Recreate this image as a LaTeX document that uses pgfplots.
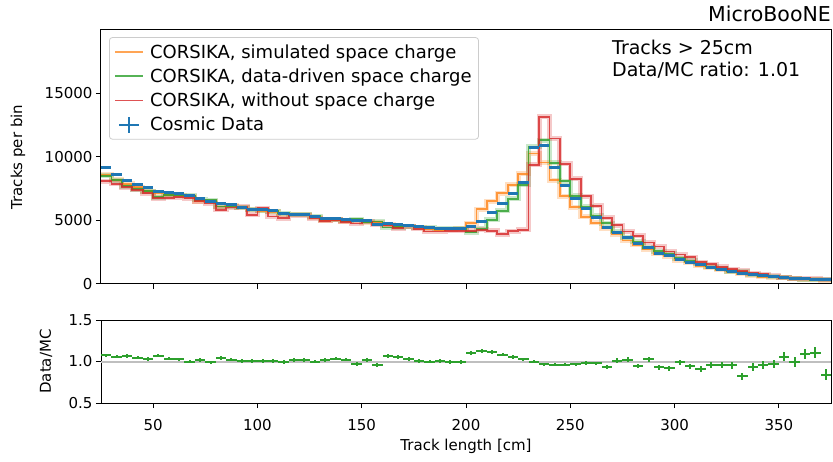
\documentclass[border=0pt]{standalone}
\usepackage{pgfplots}
\usepackage{pgfplotstable}
\pgfplotsset{compat=1.18}
\usepackage{fontspec}
\setmainfont{DejaVu Sans}
\definecolor{mblue}{HTML}{1F77B4}
\definecolor{morange}{HTML}{FF7F0E}
\definecolor{mgreen}{HTML}{2CA02C}
\definecolor{mred}{HTML}{D62728}

\pgfplotstableread{
x blue orange green red ratio rerr
25 9138 8600 8520 8084 1.076 0.019
30 8611 8216 8163 7900 1.056 0.019
35 8137 7900 7689 7637 1.068 0.020
40 7860 7637 7479 7426 1.048 0.020
45 7584 7294 7321 7163 1.032 0.020
50 7294 7163 6850 6741 1.072 0.020
55 7189 7031 6978 6794 1.036 0.020
60 7163 7005 7005 6847 1.028 0.020
65 6978 6899 6952 6741 1.000 0.021
70 6715 6504 6636 6531 1.020 0.021
75 6504 6504 6583 6373 0.988 0.021
80 6373 6109 6109 5846 1.044 0.021
85 6241 6162 6100 6030 1.024 0.021
90 6057 6004 6000 6109 1.004 0.022
95 5899 5846 5870 5451 1.008 0.022
100 5846 5767 5795 5978 1.008 0.022
105 5767 5688 5730 5319 1.004 0.022
110 5556 5504 5560 5188 0.992 0.022
115 5504 5477 5460 5425 1.020 0.022
120 5477 5451 5440 5425 1.016 0.022
125 5319 5267 5340 5188 1.000 0.023
130 5188 5003 5100 4977 1.020 0.023
135 5188 5056 5080 5056 1.036 0.023
140 5080 4951 4980 4900 1.024 0.023
145 5003 4977 5110 4766 0.968 0.023
150 4977 4872 4900 4924 1.020 0.023
155 4714 4872 4925 4661 0.956 0.023
160 4766 4661 4455 4608 1.068 0.023
165 4661 4503 4470 4398 1.056 0.023
170 4635 4529 4560 4529 1.028 0.023
175 4556 4477 4485 4345 1.008 0.024
180 4450 4292 4420 4134 1.000 0.024
185 4398 4266 4355 4134 1.008 0.024
190 4345 4292 4350 4187 0.992 0.024
195 4371 4398 4375 4187 0.992 0.024
200 4529 4793 4085 4187 1.108 0.024
205 4924 5899 4355 4266 1.128 0.024
210 5662 6504 5065 4187 1.116 0.023
215 6320 7163 5770 3924 1.084 0.022
220 7163 7821 6710 4161 1.056 0.021
225 8005 8664 7800 4266 1.028 0.020
230 10770 10280 10800 9401 0.996 0.019
235 10940 9570 11320 13180 0.964 0.018
240 9200 8170 9550 11460 0.960 0.019
245 7750 6920 8080 9480 0.960 0.020
250 6755 6057 6950 8295 0.964 0.021
255 5950 5290 6080 6900 0.980 0.022
260 5255 4820 5360 6162 0.976 0.023
265 4477 4370 4790 5200 0.928 0.024
270 4082 3920 4100 4620 1.012 0.025
275 3687 3423 3640 4134 1.024 0.026
280 3213 3081 3330 3792 0.944 0.027
285 2870 2739 2850 3265 1.028 0.028
290 2423 2370 2580 2949 0.928 0.030
295 2238 2159 2400 2554 0.920 0.030
300 1960 1860 2040 2320 0.988 0.032
305 1712 1685 1820 2107 0.940 0.034
310 1501 1448 1600 1712 0.908 0.035
315 1317 1290 1372 1554 0.956 0.037
320 1159 1106 1210 1343 0.960 0.039
325 974 948 1023 1159 0.956 0.042
330 843 816 960 1027 0.820 0.045
335 711 685 765 843 0.928 0.048
340 632 579 640 764 0.960 0.050
345 579 527 570 658 0.968 0.052
350 500 480 474 500 1.056 0.055
355 448 430 450 448 0.992 0.058
360 395 380 370 448 1.088 0.061
365 342 330 315 395 1.108 0.065
370 316 300 350 316 0.840 0.068
375 316 300 350 316 1.000 0.000
}\datatab

\pgfplotsset{
  every axis/.append style={
    scale only axis,
    axis line style={black, line width=1pt},
    tick style={black, line width=1pt},
    major tick length=5pt,
    tick align=outside,
    tick pos=left,
    /pgf/number format/assume math mode=true,
    tick label style={font=\fontsize{15}{18}\selectfont},
  },
}

\begin{document}
\begin{tikzpicture}[x=1pt,y=1pt]
\useasboundingbox (0,0) rectangle (833,461);
\begin{axis}[
  at={(101pt,177pt)}, anchor=south west,
  width=730pt, height=254pt,
  xmin=25, xmax=375, ymin=0, ymax=20000,
  clip mode=individual,
  xtick={50,100,...,350}, xticklabels={},
  ytick={0,5000,10000,15000},
  scaled y ticks=false,
  yticklabel style={/pgf/number format/.cd, fixed, 1000 sep={}},
  ylabel={Tracks per bin},
  every axis y label/.style={at={(axis description cs:-0.1137,0.5)}, rotate=90, anchor=center,
    font=\fontsize{15}{18}\selectfont},
  title={MicroBooNE},
  every axis title/.style={at={(axis description cs:1,1)}, anchor=base east, yshift=8pt,
    inner sep=0pt, font=\fontsize{20.5}{24}\selectfont},
  legend style={at={(0.011,0.972)}, anchor=north west, draw=black!20, line width=0.8pt,
    rounded corners=3pt, font=\fontsize{18}{21}\selectfont, row sep=5pt,
    inner xsep=5pt, inner ysep=5pt},
  legend cell align=left,
]
\addplot[const plot, line width=5pt, color=morange, opacity=0.25, forget plot] table[x=x, y=orange] \datatab;
\addplot[const plot, line width=5pt, color=mgreen, opacity=0.25, forget plot] table[x=x, y=green] \datatab;
\addplot[const plot, line width=5pt, color=mred, opacity=0.25, forget plot] table[x=x, y=red] \datatab;
\addplot[const plot, line width=1.8pt, color=morange, opacity=0.75,
  legend image code/.code={\draw[morange, line width=1.6pt, opacity=0.7] (0pt,0pt) -- (28pt,0pt); \path (32pt,0pt);}]
  table[x=x, y=orange] \datatab;
\addlegendentry{CORSIKA, simulated space charge}
\addplot[const plot, line width=1.8pt, color=mgreen, opacity=0.8,
  legend image code/.code={\draw[mgreen, line width=1.6pt, opacity=0.8] (0pt,0pt) -- (28pt,0pt); \path (32pt,0pt);}]
  table[x=x, y=green] \datatab;
\addlegendentry{CORSIKA, data-driven space charge}
\addplot[const plot, line width=1.8pt, color=mred, opacity=0.8,
  legend image code/.code={\draw[mred, line width=1.6pt, opacity=0.8] (0pt,0pt) -- (28pt,0pt); \path (32pt,0pt);}]
  table[x=x, y=red] \datatab;
\addlegendentry{CORSIKA, without space charge}
\addplot[draw=none, mark=none, skip coords between index={70}{71},
  legend image code/.code={\draw[mblue, line width=2.2pt] (14pt,-8pt) -- (14pt,8pt) (4pt,0pt) -- (24pt,0pt); \path (32pt,0pt);},
  error bars/.cd, x dir=both, x fixed=2.5, y dir=none,
  error mark=none, error bar style={draw=mblue, line width=3pt}]
  table[x expr=\thisrow{x}+2.5, y=blue] \datatab;
\addlegendentry{Cosmic Data}
\node[anchor=north west, align=left, inner sep=0pt, font=\fontsize{19}{22}\selectfont]
  at (rel axis cs:0.70,0.963) {Tracks > 25cm\\Data/MC ratio: 1.01};
\end{axis}

\begin{axis}[
  at={(101pt,58pt)}, anchor=south west,
  width=730pt, height=83pt,
  xmin=25, xmax=375, ymin=0.5, ymax=1.5,
  xtick={50,100,...,350},
  ytick={0.5,1.0,1.5},
  xticklabel style={yshift=-8pt},
  yticklabel style={/pgf/number format/.cd, fixed, fixed zerofill, precision=1},
  ylabel={Data/MC},
  every axis y label/.style={at={(axis description cs:-0.0753,0.5)}, rotate=90, anchor=center,
    font=\fontsize{15}{18}\selectfont},
  xlabel={Track length [cm]},
  every axis x label/.style={at={(axis description cs:0.5,-0.52)}, anchor=center,
    font=\fontsize{15}{18}\selectfont},
]
\addplot[black!25, line width=2pt, forget plot] coordinates {(25,1) (375,1)};
\addplot[draw=none, mark=none, skip coords between index={70}{71},
  error bars/.cd, x dir=both, x fixed=2.5, y dir=both, y explicit,
  error mark=none, error bar style={draw=mgreen, line width=2pt}]
  table[x expr=\thisrow{x}+2.5, y=ratio, y error=rerr] \datatab;
\end{axis}
\end{tikzpicture}
\end{document}
